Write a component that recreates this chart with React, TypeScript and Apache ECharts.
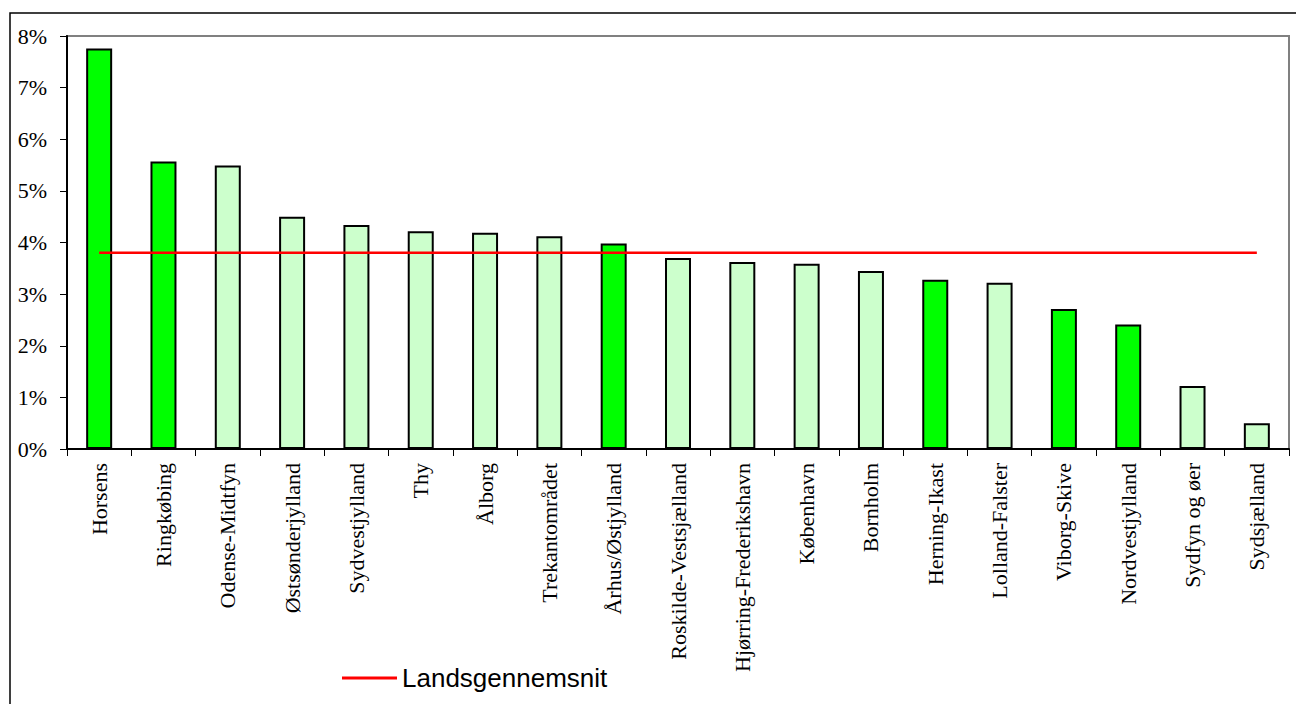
import React, { useEffect, useRef } from "react";
import * as echarts from "echarts";

const categories = [
  "Horsens",
  "Ringkøbing",
  "Odense-Midtfyn",
  "Østsønderjylland",
  "Sydvestjylland",
  "Thy",
  "Ålborg",
  "Trekantområdet",
  "Århus/Østjylland",
  "Roskilde-Vestsjælland",
  "Hjørring-Frederikshavn",
  "København",
  "Bornholm",
  "Herning-Ikast",
  "Lolland-Falster",
  "Viborg-Skive",
  "Nordvestjylland",
  "Sydfyn og øer",
  "Sydsjælland",
];

const values = [7.76, 5.57, 5.49, 4.5, 4.34, 4.22, 4.19, 4.12, 3.98, 3.7, 3.62, 3.59, 3.45, 3.28, 3.22, 2.71, 2.41, 1.22, 0.5];

const highlighted = [true, true, false, false, false, false, false, false, true, false, false, false, false, true, false, true, true, false, false];

const nationalAverage = 3.8;

const yTicks = { min: 0, max: 8, interval: 1 };

const seriesNames = { average: "Landsgennemsnit" };

export default function App() {
  const ref = useRef<HTMLDivElement>(null);

  useEffect(() => {
    document.body.style.margin = "0";
    if (!ref.current) return;
    const chart = echarts.init(ref.current, undefined, { renderer: "svg" });
    const serif = "'Times New Roman', 'Liberation Serif', serif";
    const sans = "Arial, 'Liberation Sans', sans-serif";
    chart.setOption({
      animation: false,
      backgroundColor: "#ffffff",
      grid: {
        left: 67,
        top: 36,
        right: 7,
        bottom: 255,
        show: true,
        borderColor: "#808080",
        borderWidth: 2,
        backgroundColor: "transparent",
      },
      legend: {
        left: 342,
        top: 663,
        padding: 0,
        data: [seriesNames.average],
        icon: "rect",
        itemWidth: 55,
        itemHeight: 3,
        textStyle: { fontFamily: sans, fontSize: 26, color: "#000", lineHeight: 30 },
      },
      graphic: [
        {
          type: "polyline",
          shape: { points: [[10, 720], [10, 13], [1310, 13]] },
          style: { stroke: "#000", lineWidth: 1.5, fill: "none" },
          silent: true,
        },
      ],
      xAxis: {
        type: "category",
        data: categories,
        boundaryGap: true,
        axisLine: { show: true, lineStyle: { color: "#000", width: 2 } },
        axisTick: { show: true, length: 7, alignWithLabel: false, lineStyle: { color: "#000", width: 1 } },
        axisLabel: {
          interval: 0,
          rotate: 90,
          margin: 14,
          fontFamily: serif,
          fontSize: 22,
          color: "#000",
        },
      },
      yAxis: {
        type: "value",
        min: yTicks.min,
        max: yTicks.max,
        interval: yTicks.interval,
        axisLine: { show: true, lineStyle: { color: "#000", width: 2 } },
        axisTick: { show: true, length: 7, inside: false, lineStyle: { color: "#000", width: 1 } },
        splitLine: { show: false },
        axisLabel: {
          formatter: "{value}%",
          margin: 20,
          fontFamily: serif,
          fontSize: 22,
          color: "#000",
        },
      },
      series: [
        {
          type: "bar",
          name: "Andel",
          barWidth: 26,
          data: values.map((v, i) => ({
            value: v,
            itemStyle: {
              color: highlighted[i] ? "#00ff00" : "#ccffcc",
              borderColor: "#000",
              borderWidth: 2,
            },
          })),
          z: 2,
        },
        {
          type: "line",
          name: seriesNames.average,
          data: categories.map(() => nationalAverage),
          symbol: "none",
          lineStyle: { color: "#ff0000", width: 2.5 },
          itemStyle: { color: "#ff0000" },
          z: 3,
        },
      ],
    });
    return () => chart.dispose();
  }, []);

  return <div ref={ref} style={{ width: 1296, height: 704 }} />;
}
